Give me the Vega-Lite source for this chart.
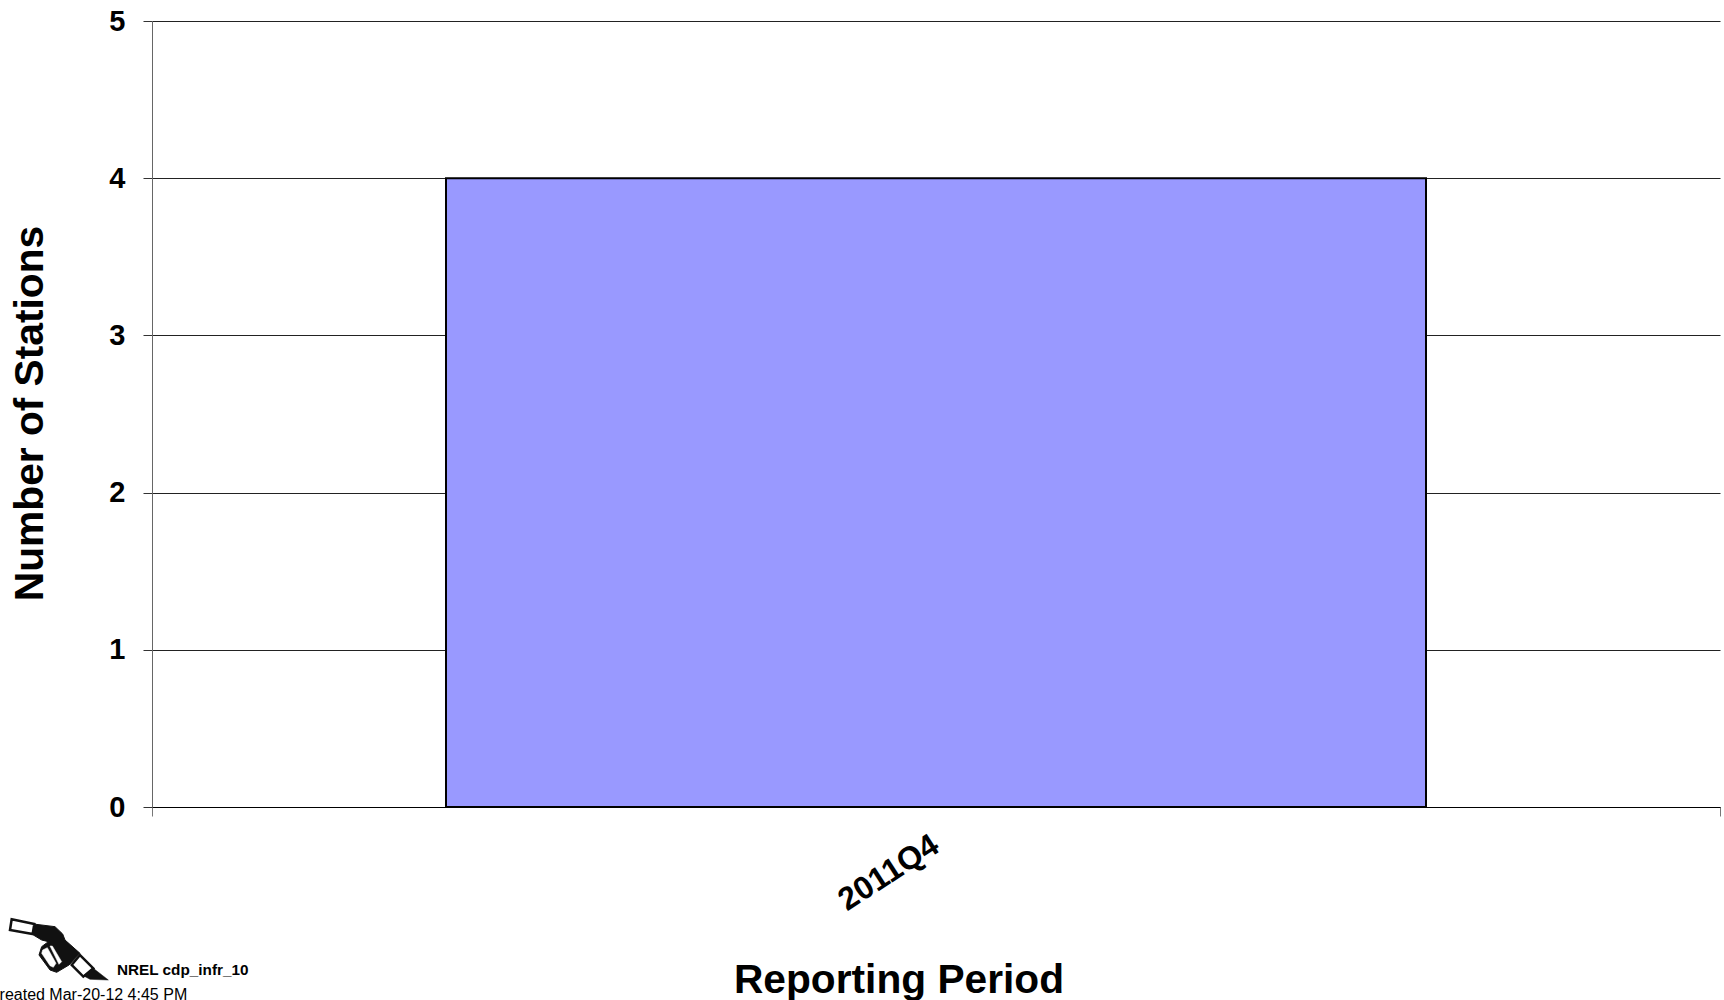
{
  "$schema": "https://vega.github.io/schema/vega-lite/v6.json",
  "width": 1568,
  "height": 786,
  "autosize": "none",
  "padding": {"left": 152, "top": 21, "right": 4, "bottom": 193},
  "background": "white",
  "config": {"view": {"stroke": null}, "font": "Liberation Sans"},
  "datasets": {
    "stations": [{"period": "2011Q4", "count": 4}],
    "notes": [{"period": "2011Q4", "note": "NREL cdp_infr_10"}],
    "created": [{"period": "2011Q4", "note": "Created Mar-20-12 4:45 PM"}]
  },
  "layer": [
    {
      "data": {"name": "stations"},
      "mark": {"type": "bar", "fill": "#9999ff", "stroke": "#000000", "strokeWidth": 2, "width": {"band": 0.625}},
      "encoding": {
        "x": {
          "field": "period", "type": "nominal",
          "scale": {"padding": 0},
          "axis": {
            "title": "Reporting Period", "titleFont": "Liberation Sans", "titleFontSize": 40.7, "titleFontWeight": "bold", "titleColor": "#000000",
            "titleX": 746.5, "titleY": 185, "titleBaseline": "alphabetic",
            "labelAngle": -33, "labelFont": "Liberation Sans", "labelFontSize": 32, "labelFontWeight": "bold", "labelColor": "#000000",
            "labelAlign": "right", "labelBaseline": "top", "labelPadding": 13, "labelOffset": -9,
            "tickBand": "extent", "tickSize": 9, "tickColor": "#777777", "tickWidth": 1,
            "domainColor": "#000000", "domainWidth": 1, "grid": false
          }
        },
        "y": {
          "field": "count", "type": "quantitative",
          "scale": {"domain": [0, 5]},
          "axis": {
            "title": "Number of Stations", "titleFont": "Liberation Sans", "titleFontSize": 40.7, "titleFontWeight": "bold", "titleColor": "#000000",
            "titleX": -100.5, "titleY": 392, "titleAngle": -90, "titleAlign": "center",
            "values": [0, 1, 2, 3, 4, 5], "format": "d",
            "labelFont": "Liberation Sans", "labelFontSize": 29, "labelFontWeight": "bold", "labelColor": "#000000", "labelPadding": 18,
            "tickSize": 9, "tickColor": "#333333", "tickWidth": 1,
            "domainColor": "#666666", "domainWidth": 1,
            "grid": true, "gridColor": "#222222", "gridWidth": 1, "gridOpacity": 1
          }
        }
      }
    },
    {
      "data": {"name": "notes"},
      "mark": {"type": "text", "font": "Liberation Sans", "fontWeight": "bold", "fontSize": 15.3, "color": "#000000", "align": "left", "baseline": "alphabetic", "dx": -819, "dy": 168, "clip": false},
      "encoding": {"x": {"field": "period", "type": "nominal"}, "y": {"datum": 0, "type": "quantitative"}, "text": {"field": "note"}}
    },
    {
      "data": {"name": "created"},
      "mark": {"type": "text", "font": "Liberation Sans", "fontSize": 16, "color": "#000000", "align": "left", "baseline": "alphabetic", "dx": -948, "dy": 193, "clip": false},
      "encoding": {"x": {"field": "period", "type": "nominal"}, "y": {"datum": 0, "type": "quantitative"}, "text": {"field": "note"}}
    },
    {
      "data": {"name": "notes"},
      "mark": {"type": "point", "filled": true, "fill": "#111111", "stroke": "#111111", "strokeWidth": 1, "opacity": 1, "size": 0.4444, "xOffset": -936, "yOffset": 103, "clip": false,
        "shape": "M100,42 L165,50 L188,72 L195,90 L240,130 L207,165 L170,187 L150,180 L117,135 L125,110 L145,95 L125,90 L100,75 Z"},
      "encoding": {"x": {"field": "period", "type": "nominal"}, "y": {"datum": 0, "type": "quantitative"}}
    },
    {
      "data": {"name": "notes"},
      "mark": {"type": "point", "filled": true, "fill": "#ffffff", "stroke": "#111111", "strokeWidth": 2.5, "opacity": 1, "size": 0.4444, "xOffset": -936, "yOffset": 103, "clip": false,
        "shape": "M35,28 L103,42 L98,72 L30,60 Z M215,165 L240,135 L280,175 L250,200 Z"},
      "encoding": {"x": {"field": "period", "type": "nominal"}, "y": {"datum": 0, "type": "quantitative"}}
    },
    {
      "data": {"name": "notes"},
      "mark": {"type": "point", "filled": true, "fill": "#ffffff", "stroke": "#ffffff", "strokeWidth": 0.5, "opacity": 1, "size": 0.4444, "xOffset": -936, "yOffset": 103, "clip": false,
        "shape": "M128,120 L142,113 L168,160 L160,172 L150,167 L125,130 Z M150,108 L157,108 L185,155 L177,163 Z"},
      "encoding": {"x": {"field": "period", "type": "nominal"}, "y": {"datum": 0, "type": "quantitative"}}
    },
    {
      "data": {"name": "notes"},
      "mark": {"type": "point", "filled": true, "fill": "#111111", "stroke": "#111111", "strokeWidth": 0.5, "opacity": 1, "size": 0.4444, "xOffset": -936, "yOffset": 103, "clip": false,
        "shape": "M250,197 L280,175 L325,210 L270,208 Z"},
      "encoding": {"x": {"field": "period", "type": "nominal"}, "y": {"datum": 0, "type": "quantitative"}}
    }
  ]
}
